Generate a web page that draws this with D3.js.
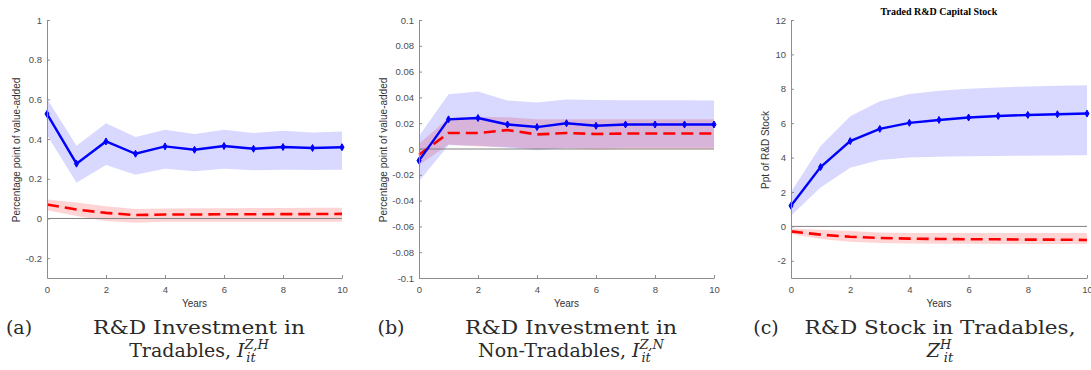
<!DOCTYPE html>
<html>
<head>
<script src="https://d3js.org/d3.v7.min.js"></script>
<style>
  body { margin: 0; background: #fff; }
  .tick text { font: 9.5px Arial, "Liberation Sans", sans-serif; fill: #4d4d4d; }
  .axis path, .axis line { stroke: #8c8c8c; }
  .ylab, .xlab { font: 10px Arial, "Liberation Sans", sans-serif; fill: #333; }
  .cap { font-family: "DejaVu Serif", serif; font-size: 19px; fill: #2a2a2a; }
</style>
</head>
<body>
<script>
// horizons (years)
var years = [0, 1, 2, 3, 4, 5, 6, 7, 8, 9, 10];
var xTicks = [0, 2, 4, 6, 8, 10];

// (a) R&D investment in tradables
var aBlue    = [0.527, 0.276, 0.388, 0.326, 0.363, 0.346, 0.365, 0.351, 0.360, 0.355, 0.359];
var aBlueHi  = [0.603, 0.367, 0.480, 0.410, 0.447, 0.425, 0.447, 0.430, 0.442, 0.433, 0.438];
var aBlueLo  = [0.420, 0.180, 0.270, 0.220, 0.250, 0.238, 0.250, 0.243, 0.246, 0.244, 0.246];
var aRed     = [0.070, 0.045, 0.028, 0.017, 0.020, 0.020, 0.021, 0.021, 0.022, 0.022, 0.023];
var aRedHi   = [0.095, 0.080, 0.062, 0.048, 0.050, 0.051, 0.052, 0.053, 0.053, 0.054, 0.054];
var aRedLo   = [0.042, 0.012, -0.013, -0.022, -0.017, -0.017, -0.017, -0.017, -0.017, -0.017, -0.017];
var aTicks   = [-0.2, 0, 0.2, 0.4, 0.6, 0.8, 1];

// (b) R&D investment in non-tradables
var bBlue    = [-0.009, 0.023, 0.024, 0.019, 0.017, 0.020, 0.018, 0.019, 0.019, 0.019, 0.019];
var bBlueHi  = [0.010, 0.0425, 0.0445, 0.0376, 0.036, 0.0384, 0.038, 0.0378, 0.0377, 0.0377, 0.0376];
var bBlueLo  = [-0.025, 0.003, 0.0026, 0.001, -0.001, 0.0005, 0.0005, 0.001, 0.001, 0.001, 0.001];
var bRed     = [-0.0045, 0.0124, 0.0124, 0.0147, 0.0113, 0.0124, 0.0116, 0.012, 0.012, 0.012, 0.012];
var bRedHi   = [0.004, 0.024, 0.025, 0.0247, 0.023, 0.023, 0.023, 0.023, 0.023, 0.023, 0.023];
var bRedLo   = [-0.0126, 0.0034, 0.002, 0.0015, 0, 0.0005, -0.0005, 0, 0, 0, 0];
var bTicks   = [-0.1, -0.08, -0.06, -0.04, -0.02, 0, 0.02, 0.04, 0.06, 0.08, 0.1];

// (c) R&D stock in tradables
var cBlue    = [1.2, 3.45, 4.96, 5.67, 6.02, 6.19, 6.33, 6.42, 6.48, 6.52, 6.56];
var cBlueHi  = [2.0, 4.67, 6.4, 7.27, 7.7, 7.89, 8.0, 8.08, 8.14, 8.18, 8.2];
var cBlueLo  = [0.62, 2.26, 3.41, 3.86, 4.01, 4.05, 4.08, 4.1, 4.11, 4.12, 4.13];
var cRed     = [-0.29, -0.48, -0.60, -0.67, -0.71, -0.73, -0.75, -0.75, -0.77, -0.77, -0.79];
var cRedHi   = [-0.12, -0.19, -0.27, -0.35, -0.38, -0.39, -0.39, -0.39, -0.39, -0.39, -0.39];
var cRedLo   = [-0.44, -0.73, -0.89, -0.96, -1.0, -1.01, -1.01, -1.02, -1.02, -1.02, -1.02];
var cTicks   = [-2, 0, 2, 4, 6, 8, 10, 12];

var W = 1091, H = 370;
var svg = d3.select("body").append("svg").attr("width", W).attr("height", H);

var panels = [
  {x0: 47, x1: 342, dom: [-0.3, 1], ticks: aTicks, ylab: "Percentage point of value-added", ylx: 20,
   blue: aBlue, bhi: aBlueHi, blo: aBlueLo, red: aRed, rhi: aRedHi, rlo: aRedLo,
   tag: "(a)", tagx: 19, cx: 199, w1: 212, l1: "R&D Investment in", l2: "Tradables, ", sym: "I", sup: "Z,H"},
  {x0: 419, x1: 714, dom: [-0.1, 0.1], ticks: bTicks, ylab: "Percentage point of value-added", ylx: 387,
   blue: bBlue, bhi: bBlueHi, blo: bBlueLo, red: bRed, rhi: bRedHi, rlo: bRedLo,
   tag: "(b)", tagx: 391, cx: 571, w1: 212, l1: "R&D Investment in", l2: "Non-Tradables, ", sym: "I", sup: "Z,N"},
  {x0: 791, x1: 1087, dom: [-3, 12], ticks: cTicks, ylab: "Ppt of R&D Stock", ylx: 769,
   blue: cBlue, bhi: cBlueHi, blo: cBlueLo, red: cRed, rhi: cRedHi, rlo: cRedLo,
   tag: "(c)", tagx: 766, cx: 940, w1: 271, l1: "R&D Stock in Tradables,", l2: "", sym: "Z", sup: "H",
   title: "Traded R&D Capital Stock"}
];

var yTop = 20, yBot = 278;
var fmt = function(d) { return String(+d.toFixed(2)); };

panels.forEach(function(p) {
  var x = d3.scaleLinear().domain([0, 10]).range([p.x0, p.x1]);
  var y = d3.scaleLinear().domain(p.dom).range([yBot, yTop]);
  var g = svg.append("g");

  var area = function(hi, lo) {
    return d3.area().x(function(d, i) { return x(years[i]); })
      .y0(function(d, i) { return y(lo[i]); })
      .y1(function(d, i) { return y(hi[i]); })(years);
  };
  var line = function(v) {
    return d3.line().x(function(d, i) { return x(years[i]); })
      .y(function(d, i) { return y(v[i]); })(years);
  };

  g.append("path").attr("d", area(p.rhi, p.rlo)).attr("fill", "#ff0000").attr("fill-opacity", 0.17);
  g.append("path").attr("d", area(p.bhi, p.blo)).attr("fill", "#0000ff").attr("fill-opacity", 0.15);

  // zero line
  g.append("line").attr("x1", x(0)).attr("x2", x(10)).attr("y1", y(0)).attr("y2", y(0))
    .attr("stroke", "#808080").attr("stroke-width", 1);

  g.append("path").attr("d", line(p.red)).attr("fill", "none").attr("stroke", "#ff0000")
    .attr("stroke-width", 2.6).attr("stroke-dasharray", "12,6");
  g.append("path").attr("d", line(p.blue)).attr("fill", "none").attr("stroke", "#0000ff")
    .attr("stroke-width", 2.4);
  g.selectAll(".mk").data(years).enter().append("path")
    .attr("transform", function(d, i) { return "translate(" + x(d) + "," + y(p.blue[i]) + ")"; })
    .attr("d", d3.symbol().type(d3.symbolDiamond).size(14))
    .attr("fill", "#0000ff").attr("stroke", "#0000ff").attr("stroke-width", 1);

  // axes
  g.append("g").attr("class", "axis").attr("transform", "translate(" + p.x0 + ",0)")
    .call(d3.axisLeft(y).tickValues(p.ticks).tickFormat(fmt).tickSizeInner(-3).tickSizeOuter(0).tickPadding(5));
  g.append("g").attr("class", "axis").attr("transform", "translate(0," + yBot + ")")
    .call(d3.axisBottom(x).tickValues(xTicks).tickFormat(fmt).tickSizeInner(-3).tickSizeOuter(0).tickPadding(8));

  g.append("text").attr("class", "ylab").attr("text-anchor", "middle")
    .attr("transform", "translate(" + p.ylx + "," + 150 + ") rotate(-90)").text(p.ylab);
  g.append("text").attr("class", "xlab").attr("text-anchor", "middle")
    .attr("x", (p.x0 + p.x1) / 2).attr("y", 307).text("Years");

  if (p.title) {
    g.append("text").attr("x", (p.x0 + p.x1) / 2).attr("y", 15).attr("text-anchor", "middle")
      .style("font", "bold 10px 'Liberation Serif', serif").text(p.title);
  }

  // captions
  svg.append("text").attr("class", "cap").attr("x", p.tagx).attr("y", 334).attr("text-anchor", "middle").text(p.tag);
  svg.append("text").attr("class", "cap").attr("x", p.cx).attr("y", 334).attr("text-anchor", "middle")
    .attr("textLength", p.w1).attr("lengthAdjust", "spacingAndGlyphs").text(p.l1);
  var t2 = svg.append("text").attr("class", "cap").attr("x", p.cx).attr("y", 357).attr("text-anchor", "middle");
  t2.append("tspan").text(p.l2);
  t2.append("tspan").style("font-style", "italic").text(p.sym);
  t2.append("tspan").attr("dy", -8).style("font-size", "13px").style("font-style", "italic").text(p.sup);
  t2.append("tspan").attr("dx", -(p.sup.length * 7.5)).attr("dy", 13).style("font-size", "13px").style("font-style", "italic").text("it");
});
</script>
</body>
</html>
